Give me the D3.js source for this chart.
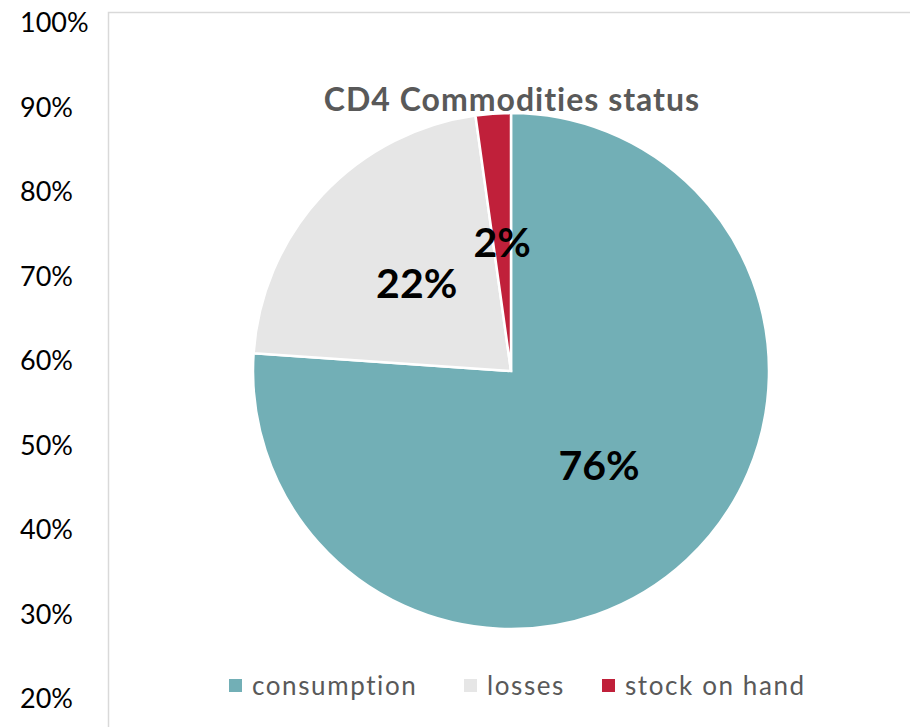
<!DOCTYPE html>
<html>
<head>
<meta charset="utf-8">
<script src="https://cdn.jsdelivr.net/npm/d3@7"></script>
<style>
  body { margin: 0; background: #fff; }
  svg { display: block; }
</style>
</head>
<body>
<svg id="chart" width="910" height="727"></svg>
<script>
// chart values
const categories = ["consumption", "losses", "stock on hand"];
const shares = [76.1, 21.7, 2.2];
const sliceColors = ["#72AFB6", "#E6E6E6", "#C0203A"];
const axisTicks = [0.2, 0.3, 0.4, 0.5, 0.6, 0.7, 0.8, 0.9, 1.0];
const title = "CD4 Commodities status";

const svg = d3.select("#chart");

// left percent labels (left over from the chart behind the pie)
const y = d3.scaleLinear().domain([0.2, 1.0]).range([708, 32]);
svg.append("g")
  .selectAll("text")
  .data(axisTicks)
  .enter()
  .append("text")
  .attr("x", 20)
  .attr("y", (d) => y(d))
  .style("font-family", "Lato, sans-serif")
  .style("font-size", "27px")
  .style("fill", "#000")
  .text(d3.format(".0%"));

// chart area border
svg.append("rect")
  .attr("x", 108.5)
  .attr("y", 12.5)
  .attr("width", 900)
  .attr("height", 800)
  .attr("fill", "#fff")
  .attr("stroke", "#d9d9d9")
  .attr("stroke-width", 1.5);

// title
svg.append("text")
  .attr("x", 512)
  .attr("y", 111)
  .attr("text-anchor", "middle")
  .style("font-family", "Lato, sans-serif")
  .style("font-weight", "bold")
  .style("font-size", "32px")
  .style("letter-spacing", "1px")
  .style("fill", "#595959")
  .text(title);

// pie
const cx = 511, cy = 371, r = 258;
const color = d3.scaleOrdinal().domain(categories).range(sliceColors);
const pie = d3.pie().sort(null).value((d) => d.value);
const data = categories.map((c, i) => ({ name: c, value: shares[i] }));
const arcs = pie(data);
const arc = d3.arc().innerRadius(0).outerRadius(r);

const g = svg.append("g").attr("transform", "translate(" + cx + "," + cy + ")");

g.selectAll("path")
  .data(arcs)
  .enter()
  .append("path")
  .attr("d", arc)
  .attr("fill", (d) => color(d.data.name))
  .attr("stroke", "#fff")
  .attr("stroke-width", 2.5)
  .attr("stroke-linejoin", "miter");

g.selectAll("text.lbl")
  .data(arcs)
  .enter()
  .append("text")
  .attr("class", "lbl")
  .attr("transform", (d) => "translate(" + arc.centroid(d) + ")")
  .attr("text-anchor", "middle")
  .attr("dy", "0.36em")
  .style("font-family", "Lato, sans-serif")
  .style("font-weight", "bold")
  .style("font-size", "41px")
  .style("fill", "#000")
  .text((d) => Math.round(d.data.value) + "%");

// legend
const legendX = [229, 464, 602];
const legend = svg.append("g").attr("class", "legend");
const entries = legend.selectAll(".legendEntry")
  .data(categories)
  .enter()
  .append("g")
  .attr("class", "legendEntry")
  .attr("transform", (d, i) => "translate(" + legendX[i] + ",679)");

entries.append("rect")
  .attr("width", 13)
  .attr("height", 13)
  .style("fill", color);

entries.append("text")
  .attr("x", 23)
  .attr("y", 16)
  .style("font-family", "Lato, sans-serif")
  .style("font-size", "26px")
  .style("letter-spacing", "1.6px")
  .style("fill", "#595959")
  .text((d) => d);
</script>
</body>
</html>
